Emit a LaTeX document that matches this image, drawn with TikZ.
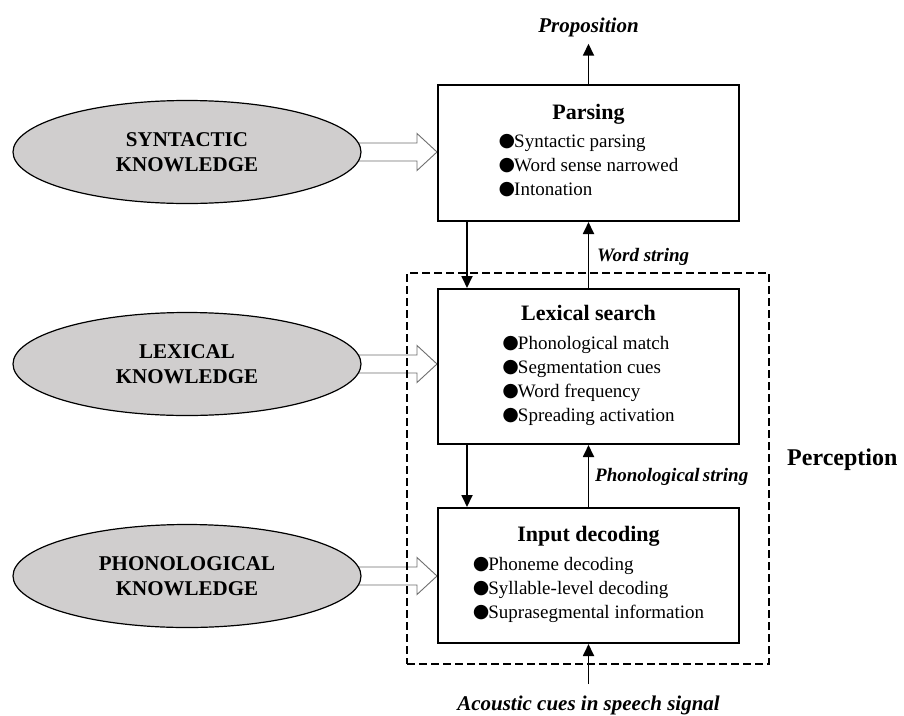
\documentclass[tikz,border=0pt]{standalone}
\usepackage{fontspec}
\setmainfont{Liberation Serif}
\newfontfamily\symfont{DejaVu Sans}
\usetikzlibrary{arrows.meta,shapes.geometric,calc,backgrounds}
\definecolor{knowfill}{RGB}{208,206,206}
\definecolor{hollowedge}{RGB}{110,110,110}
% bullet glyph used in the stage lists
\newcommand\bul{\raisebox{0.5pt}{\symfont\fontsize{19}{19}\selectfont ●}\hspace{-1pt}}

\begin{document}
\begin{tikzpicture}[x=1pt,y=-1pt,
  stagebox/.style={draw,line width=2pt,minimum width=301pt,inner sep=0pt,
    align=center,font=\fontsize{19}{24}\selectfont},
  know/.style={ellipse,draw,line width=1.2pt,fill=knowfill,minimum width=348pt,
    minimum height=103pt,inner sep=0pt,align=center,
    font=\fontsize{21}{25.5}\selectfont\bfseries},
  arr/.style={line width=1.8pt,-{Triangle[length=12pt,width=11pt]}},
  hollow/.style={draw=hollowedge,line width=0.9pt,fill=white},
  flowlabel/.style={font=\fontsize{19}{22}\selectfont\bfseries\itshape,inner sep=0pt},
  endlabel/.style={font=\fontsize{21}{24}\selectfont\bfseries\itshape,inner sep=0pt},
  frame/.style={draw,line width=2pt,dash pattern=on 8pt off 4pt,inner sep=0pt}]

\useasboundingbox (0,0) rectangle (904,715);

% processing stages
\node[stagebox,minimum height=136pt] (parse) at (588.5,153)
  {{\fontsize{22}{24}\selectfont\bfseries Parsing}\\[4pt]
   \begin{tabular}[t]{@{}l@{}}\bul Syntactic parsing\\ \bul Word sense narrowed\\ \bul Intonation\end{tabular}};
\node[stagebox,minimum height=155pt] (lexs) at (588.5,366.5)
  {{\fontsize{22}{24}\selectfont\bfseries Lexical search}\\[5pt]
   \begin{tabular}[t]{@{}l@{}}\bul Phonological match\\ \bul Segmentation cues\\ \bul Word frequency\\ \bul Spreading activation\end{tabular}};
\node[stagebox,minimum height=135pt] (inp) at (588.5,575.5)
  {{\fontsize{22}{24}\selectfont\bfseries Input decoding}\\[5pt]
   \begin{tabular}[t]{@{}l@{}}\bul Phoneme decoding\\ \bul Syllable-level decoding\\ \bul Suprasegmental information\end{tabular}};

% knowledge sources
\node[know] (synk) at (187,152) {SYNTACTIC\\KNOWLEDGE};
\node[know] (lexk) at (187,364) {LEXICAL\\KNOWLEDGE};
\node[know] (phonk) at (187,576) {PHONOLOGICAL\\KNOWLEDGE};

% hollow arrows from knowledge sources into the stages
\begin{scope}[on background layer]
  \foreach \k/\b in {synk/parse,lexk/lexs,phonk/inp}{
    \draw[hollow] ($(\k.east)+(-6,-9)$) -- ($(\k.east -| \b.west)+(-20,-9)$)
      -- ($(\k.east -| \b.west)+(-20,-18.5)$) -- (\k.east -| \b.west)
      -- ($(\k.east -| \b.west)+(-20,18.5)$) -- ($(\k.east -| \b.west)+(-20,9)$)
      -- ($(\k.east)+(-6,9)$);
  }
\end{scope}

% perception frame
\node[frame,minimum width=362pt,minimum height=391pt] (percframe) at (588,468.5) {};
\node[anchor=west,inner sep=0pt,font=\fontsize{24}{28}\selectfont\bfseries] (perc) at (787,460) {Perception};

% input and output
\node[endlabel] (prop) at (588.5,27) {Proposition};
\node[endlabel] (acou) at (588.5,705) {Acoustic cues in speech signal};
\coordinate (acstart) at (588.5,684);

% flow between stages
\draw[arr,shorten >=7pt] (parse.north) -- (prop);
\draw[arr] ([xshift=30pt]parse.south west) -- ([xshift=30pt]lexs.north west);
\draw[arr] (lexs.north) -- (parse.south);
\draw[arr] ([xshift=30pt]lexs.south west) -- ([xshift=30pt]inp.north west);
\draw[arr] (inp.north) -- (lexs.south);
\draw[arr] (acstart) -- (inp.south);

\node[flowlabel,anchor=west] (wstr) at (597,257) {Word string};
\node[flowlabel,anchor=west] (pstr) at (595,477) {Phonological\,string};

\end{tikzpicture}
\end{document}
